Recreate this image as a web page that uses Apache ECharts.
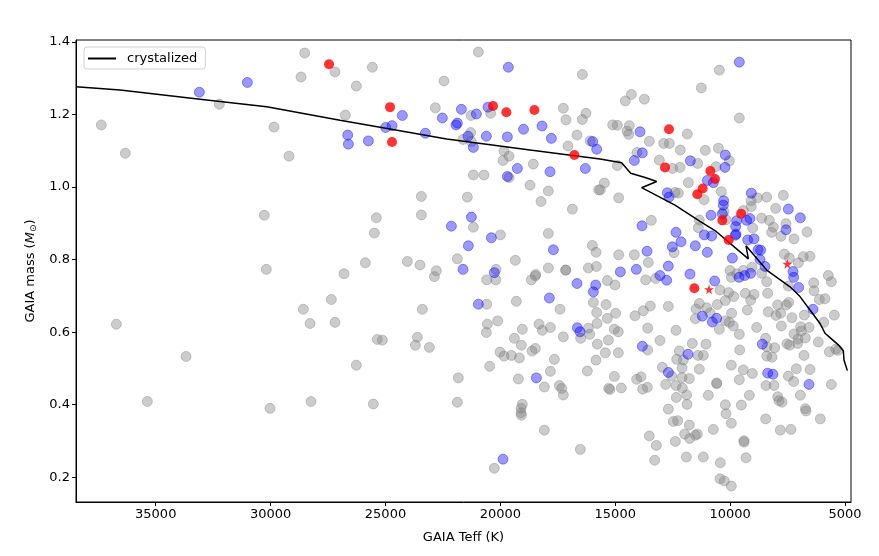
<!DOCTYPE html>
<html>
<head>
<meta charset="utf-8">
<script src="https://cdn.jsdelivr.net/npm/echarts@6/dist/echarts.min.js"></script>
<style>
  html, body { margin: 0; padding: 0; background: #fff; }
  #chart { width: 879px; height: 556px; }
</style>
</head>
<body>
<div id="chart"></div>
<script>
// Teff (K), mass (Msun)

// grey: all GAIA stars
const greyPts = [
  [28516,1.369],[27197,1.317],[28676,1.303],[32232,1.228],[37368,1.171],[29852,1.165],[36323,1.093],[29199,1.085],
  [30274,0.922],[30187,0.773],[27358,0.690],[28576,0.663],[28285,0.624],[27197,0.627],[36715,0.622],[33681,0.533],
  [35366,0.409],[30026,0.390],[28241,0.409],
  [25572,1.330],[20958,1.372],[16432,1.310],[26268,1.278],[22453,1.292],[26747,1.198],[22830,1.218],[21278,1.197],
  [20422,1.203],[17259,1.217],[17143,1.185],[16273,1.203],[16432,1.186],[16664,1.143],[17056,1.113],[16098,1.127],
  [21292,1.150],[21626,1.131],[21263,1.125],[19841,1.099],[19624,1.085],[19885,1.073],[18565,1.063],[21176,1.033],
  [20712,1.033],[19624,1.026],[18710,1.005],[17912,0.989],[18231,0.960],[16867,0.939],[15721,0.992],[23439,0.974],
  [21437,0.972],[23439,0.923],[25398,0.915],[21176,0.889],[25485,0.873],[19999,0.868],[17912,0.872],[15997,0.839],
  [15838,0.820],[25876,0.791],[24048,0.795],[23497,0.785],[21872,0.802],[22786,0.769],[26805,0.761],[20190,0.773],
  [19348,0.798],[17912,0.777],[17158,0.771],[17158,0.771],[16171,0.777],[15822,0.781],[18463,0.759],
  [22873,0.753],[20596,0.744],[20204,0.744],[18478,0.755],[18652,0.744],[23396,0.663],[20596,0.677],[19305,0.685],
  [17404,0.663],[15954,0.682],[15808,0.654],[25354,0.580],[25136,0.578],[23613,0.586],[23700,0.564],[23091,0.558],
  [20567,0.622],[20117,0.631],[20610,0.599],[19044,0.608],[18318,0.622],[18173,0.605],[17825,0.613],[16505,0.583],
  [16171,0.611],[16113,0.594],[15793,0.624],[15779,0.567],[17259,0.587],[19392,0.583],[19087,0.564],[18478,0.555],
  [18623,0.548],[20016,0.545],[19841,0.534],[19522,0.536],[19174,0.529],[17651,0.525],[15838,0.523],[16215,0.493],
  [17825,0.492],[20465,0.506],[19218,0.471],[18086,0.449],[17433,0.453],[17332,0.445],[17259,0.427],[21829,0.474],
  [21872,0.407],[26268,0.509],[25528,0.402],[19044,0.401],[19101,0.390],[19101,0.378],[19087,0.371],[18086,0.330],
  [16519,0.277],[20262,0.225],
  [10470,1.322],[11254,1.273],[14561,1.237],[14300,1.255],[13734,1.242],[9600,1.190],[15113,1.171],[14909,1.170],
  [14387,1.169],[14489,1.154],[14416,1.145],[11863,1.146],[13517,1.126],[12893,1.120],[12646,1.120],[14054,1.095],
  [12168,1.102],[11080,1.101],[10513,1.107],[10035,1.072],[11413,1.065],[13082,1.074],[14909,1.059],[12501,1.051],
  [12182,1.054],[10615,1.056],[11819,1.012],[11138,0.965],[15475,1.011],[15649,0.992],[14851,0.970],[12400,0.985],
  [12255,0.983],[10383,0.987],[9092,0.962],[8816,0.970],[8410,0.972],[7685,0.977],[10267,0.932],[9078,0.946],
  [9426,0.935],[8019,0.941],[7569,0.899],[10180,0.910],[8628,0.914],[8294,0.908],[8120,0.889],[8193,0.875],
  [7787,0.864],[7220,0.857],[6655,0.876],[9020,0.887],[11341,0.909],[11384,0.888],[13430,0.908],[12443,0.819],
  [14851,0.813],[14170,0.813],[13560,0.792],[7641,0.815],[7424,0.804],[7032,0.791],[6815,0.808],[6524,0.809],
  [9048,0.779],[10006,0.770],[9426,0.770],[9716,0.761],[5727,0.756],
  [15345,0.742],[15011,0.730],[13676,0.744],[13241,0.748],[10441,0.716],[10064,0.709],[10209,0.687],[9846,0.698],
  [9948,0.751],[8628,0.762],[8410,0.739],[9339,0.707],[8961,0.704],[9107,0.688],[9252,0.661],[8367,0.707],
  [7467,0.727],[6365,0.736],[5596,0.739],[6350,0.714],[6118,0.690],[5872,0.692],[7932,0.675],[7554,0.675],
  [7453,0.682],[8338,0.656],[8004,0.646],[7801,0.652],[7308,0.640],[7772,0.617],[6771,0.647],[5466,0.647],
  [5929,0.627],[6568,0.613],[6930,0.615],[6901,0.603],[7220,0.595],[7047,0.581],[6727,0.584],[7061,0.569],
  [7525,0.568],[7409,0.564],[6162,0.573],[5683,0.546],[5408,0.553],[5306,0.550],[6785,0.536],[6524,0.497],
  [7119,0.499],[7467,0.479],[7235,0.464],[5596,0.456],[6945,0.426],[6727,0.389],[6698,0.383],[6075,0.361],
  [7351,0.332],[7815,0.330],[8454,0.361],[7931,0.422],[7873,0.411],[7743,0.407],[8439,0.453],[8091,0.453],
  [9034,0.486],[9426,0.496],[9600,0.469],[9165,0.426],[9513,0.399],[9948,0.349],[10180,0.375],[10209,0.400],
  [8410,0.534],[8178,0.531],[8062,0.557],[8396,0.559],[8845,0.613],[8454,0.583],[9600,0.594],[9585,0.551],
  [9948,0.509],[9934,0.652],[10209,0.631],[10035,0.627],[9861,0.617],[10470,0.608],[10557,0.676],[11341,0.679],
  [11022,0.667],[11486,0.664],[11515,0.637],[10876,0.653],[12690,0.671],[13473,0.672],[13778,0.659],[14141,0.645],
  [13589,0.611],[14982,0.652],[15345,0.638],[15403,0.676],[15040,0.608],[14866,0.601],[15301,0.578],[15432,0.543],
  [14866,0.543],[13589,0.551],[13053,0.577],[12356,0.605],[11646,0.569],[11051,0.567],[12211,0.548],[12037,0.523],
  [12327,0.525],[11399,0.536],[11167,0.536],[12951,0.503],[12095,0.501],[12545,0.479],[12806,0.456],[12095,0.475],
  [11776,0.472],[11341,0.498],[12356,0.453],[12081,0.446],[11892,0.427],[12342,0.420],[11877,0.401],[10586,0.460],
  [10586,0.458],[10949,0.426],[15040,0.478],[14735,0.446],[15287,0.445],[15229,0.442],[14068,0.470],[13880,0.477],
  [13807,0.443],[13604,0.448],[12690,0.388],[12472,0.354],[12284,0.356],[11776,0.344],[11979,0.319],[11761,0.307],
  [11515,0.316],[11428,0.319],[12385,0.299],[13517,0.314],[13212,0.288],[13285,0.247],[11906,0.256],[11167,0.256],
  [10731,0.332],[9397,0.301],[9397,0.297],[9310,0.254],[10426,0.240],[10441,0.196],[10253,0.190],[9948,0.176]
];

// blue subset
const bluePts = [
  [33102,1.261],[31013,1.288],[19653,1.330],[24266,1.197],[21698,1.214],[22525,1.190],[21045,1.201],[20538,1.220],
  [18993,1.159],[18187,1.168],[17781,1.134],[15982,1.125],[15808,1.104],[24991,1.164],[24716,1.169],[26645,1.143],
  [26616,1.118],[25746,1.127],[23265,1.148],[21930,1.171],[21872,1.176],[21408,1.140],[21176,1.109],[20610,1.140],
  [19696,1.138],[16302,1.051],[19261,1.051],[17839,1.042],[19696,1.029],[21263,0.917],[22133,0.892],[20393,0.860],
  [21394,0.838],[17694,0.827],[21626,0.773],[20262,0.764],[16664,0.734],[15852,0.730],[15954,0.711],[20958,0.677],
  [17868,0.694],[16650,0.612],[16534,0.601],[18434,0.474],[19885,0.250],
  [9600,1.344],[13923,1.152],[13822,1.094],[14170,1.073],[10209,1.088],[11732,1.072],[10224,1.054],[10993,1.018],
  [10731,1.012],[12733,0.984],[12661,0.972],[9078,0.983],[10282,0.962],[10296,0.950],[7467,0.939],[6945,0.915],
  [10833,0.922],[10340,0.926],[9716,0.907],[9281,0.908],[9136,0.913],[7569,0.882],[9760,0.891],[9745,0.870],
  [9774,0.867],[9237,0.854],[8961,0.857],[8788,0.827],[8672,0.826],[8701,0.800],[13836,0.893],[12356,0.875],
  [12139,0.849],[12516,0.835],[11515,0.838],[10993,0.820],[11123,0.868],[10804,0.865],[13618,0.823],[12690,0.782],
  [14083,0.773],[14779,0.766],[9904,0.804],[7264,0.767],[8483,0.781],
  [13053,0.756],[12762,0.743],[11747,0.760],[10673,0.741],[9614,0.751],[9368,0.756],[9107,0.762],[7235,0.751],
  [7017,0.723],[6394,0.663],[6568,0.456],[8367,0.487],[8135,0.484],[8599,0.567],[10586,0.638],[10775,0.628],
  [11210,0.644],[13821,0.561],[11834,0.539],[12690,0.489]
];

// red subset
const redPts = [
  [27458,1.338],[24803,1.220],[20320,1.223],[19740,1.206],[18521,1.212],[24716,1.124],[16780,1.088],[12661,1.159],
  [12835,1.054],[10862,1.044],[10659,1.022],[11196,0.996],[11428,0.980],[10340,0.908],[9525,0.926],[10064,0.854],
  [11558,0.721]
];

// red stars
const starPts = [[7511,0.788],[10920,0.718]];

// crystallization track
const lineTeff = [38470,36552,33072,30170,26979,24803,22337,18710,15663,14721,14329,13700,13198,13851,
  12400,11312,10659,9208,9310,8410,7395,6959,6524,6089,5872,5654,5292,5074,5045,4899];
const lineMass = [1.276,1.267,1.242,1.221,1.184,1.160,1.132,1.102,1.077,1.067,1.038,1.026,1.015,0.998,
  0.950,0.905,0.880,0.802,0.838,0.771,0.725,0.698,0.661,0.624,0.597,0.585,0.565,0.549,0.523,0.494];

const crystalLine = lineTeff.map((t, i) => [t, lineMass[i]]);

const chart = echarts.init(document.getElementById('chart'));
const FONT = 'DejaVu Sans';
const starIcon = 'path://M50,0 L61,35 L98,35 L68,57 L79,91 L50,70 L21,91 L32,57 L2,35 L39,35 Z';

chart.setOption({
  animation: false,
  textStyle: { fontFamily: FONT },
  grid: {
    left: 76, right: 28, top: 40, bottom: 54,
    show: true, borderColor: '#000', borderWidth: 1
  },
  legend: {
    data: ['crystalized'],
    left: 84, top: 47,
    padding: [5, 8, 4, 4],
    backgroundColor: '#fff',
    borderColor: '#d0d0d0', borderWidth: 1, borderRadius: 3,
    icon: 'rect', itemWidth: 28, itemHeight: 2,
    textStyle: { fontFamily: FONT, fontSize: 13, color: '#000', padding: [0, 0, 0, 6] }
  },
  xAxis: {
    type: 'value', inverse: true,
    min: 4740, max: 38470, splitNumber: 6,
    name: 'GAIA Teff (K)', nameLocation: 'middle', nameGap: 29,
    nameTextStyle: { fontFamily: FONT, fontSize: 13, color: '#000' },
    axisLine: { lineStyle: { color: '#000', width: 1 } },
    axisTick: { length: 4, lineStyle: { color: '#000' } },
    axisLabel: {
      fontFamily: FONT, fontSize: 13, color: '#000', margin: 6,
      showMinLabel: false, showMaxLabel: false,
      formatter: v => (v % 5000 === 0 ? String(v) : '')
    },
    splitLine: { show: false }
  },
  yAxis: {
    type: 'value',
    min: 0.132, max: 1.405, splitNumber: 7,
    name: 'GAIA mass ({i|M}{s|⊙})', nameLocation: 'middle', nameGap: 38, nameRotate: 90,
    nameTextStyle: {
      fontFamily: FONT, fontSize: 13, color: '#000',
      rich: {
        i: { fontFamily: FONT, fontSize: 13, fontStyle: 'italic', color: '#000' },
        s: { fontFamily: FONT, fontSize: 9, color: '#000', verticalAlign: 'bottom', padding: [6, 0, 0, 0] }
      }
    },
    axisLine: { show: true, lineStyle: { color: '#000', width: 1 } },
    axisTick: { show: true, length: 4, lineStyle: { color: '#000' } },
    axisLabel: {
      fontFamily: FONT, fontSize: 13, color: '#000', margin: 6,
      showMinLabel: false, showMaxLabel: false,
      formatter: v => (Math.abs(v * 5 - Math.round(v * 5)) < 1e-6 ? v.toFixed(1) : '')
    },
    splitLine: { show: false }
  },
  series: [
    {
      name: 'all', type: 'scatter', data: greyPts, symbolSize: 10,
      itemStyle: { color: 'rgba(128,128,128,0.5)', borderColor: 'rgba(128,128,128,0.5)', borderWidth: 1 },
      z: 2
    },
    {
      name: 'blue', type: 'scatter', data: bluePts, symbolSize: 10,
      itemStyle: { color: 'rgba(0,0,255,0.5)', borderColor: 'rgba(0,0,255,0.5)', borderWidth: 1 },
      z: 3
    },
    {
      name: 'crystalized', type: 'line', data: crystalLine,
      showSymbol: false, symbol: 'none', clip: true,
      lineStyle: { color: '#000', width: 1.5 },
      itemStyle: { color: '#000' },
      z: 4
    },
    {
      name: 'red', type: 'scatter', data: redPts, symbolSize: 10,
      itemStyle: { color: '#ff0000' },
      z: 5
    },
    {
      name: 'stars', type: 'scatter', data: starPts, symbol: starIcon, symbolSize: 10,
      itemStyle: { color: '#ff0000' },
      z: 6
    }
  ]
});
</script>
</body>
</html>
